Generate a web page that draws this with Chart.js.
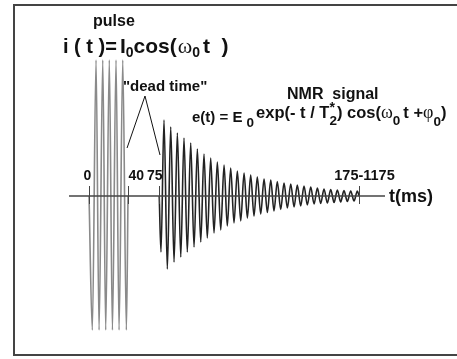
<!DOCTYPE html>
<html>
<head>
<meta charset="utf-8">
<script src="https://cdn.jsdelivr.net/npm/chart.js@4.4.0/dist/chart.umd.min.js"></script>
<style>
  body { margin: 0; background: #fff; }
  #c { display: block; }
</style>
</head>
<body>
<canvas id="c" width="457" height="359"></canvas>
<script>
// pulse i(t): extrema (time in ms, amplitude in arb. units)
const pulseTimes = [0, 3.4, 7.2, 10.3, 14.1, 17.1, 20.8, 24.0, 27.7, 30.8, 34.6, 38.3, 40];
const pulseValues = [0, -134, 136, -134, 136, -134, 136, -134, 136, -134, 136, -134, 0];

// NMR signal e(t): decaying oscillation, troughs and peaks
const signalTimes = [
	72, 73.8, 76.9, 80.3, 83.8, 87.2, 90.6, 94.1, 97.4, 100.8,
	104.3, 107.7, 111.1, 114.6, 117.9, 121.3, 124.8, 128.2, 131.6, 135.1,
	138.5, 141.8, 145.3, 148.7, 152.1, 155.6, 159.0, 162.4, 165.8, 169.2,
	172.6, 176.1, 179.5, 182.9, 186.4, 189.7, 193.1, 196.6, 200.0, 203.4,
	206.9, 210.3, 213.6, 217.1, 220.5, 223.9, 227.4, 230.8, 234.2, 237.6,
	241.0, 244.4, 247.9, 251.3, 254.7, 258.1, 261.5, 264.9, 268.4, 271.8,
	275.2, 277
];
const signalValues = [
	0, -56, 76, -73, 69, -66, 63, -61, 58, -56,
	53, -51, 47, -46, 42, -42, 38, -37, 34, -34,
	31, -30, 28, -27, 25, -25, 23, -22, 21, -20,
	19, -18, 17, -16.5, 16, -15, 14.5, -13.5, 13, -12,
	12, -11, 11, -10, 10, -9, 9, -8, 8, -7.5,
	7, -7, 6.5, -6.5, 6, -6, 5.5, -5.5, 5, -5,
	5, 0
];

// "dead time" bracket
const deadTimeX = [39.0, 57.4, 72.8];
const deadTimeY = [48, 100, 41];

// time axis
const axisRange = [-20.5, 303.6];
const tickValues = [0, 40, 72, 277];
const tickLabels = ["0", "40", "75", "175-1175"];

const toPoints = (xs, ys) => xs.map((x, i) => ({ x: x, y: ys[i] }));

const BOLD = "bold {s}px 'Liberation Sans', Arial, sans-serif";
const SERIF = "{s}px 'Liberation Serif', 'Times New Roman', serif";
const f = (tpl, s) => tpl.replace("{s}", s);

// draw a run of text pieces left to right; "over" stacks a piece on the previous one
function rich(ctx, x, y, parts) {
	ctx.textAlign = "left";
	ctx.textBaseline = "alphabetic";
	let prevX = x, prevW = 0;
	for (const p of parts) {
		ctx.font = p.font;
		const w = ctx.measureText(p.t).width;
		if (p.over) {
			ctx.fillText(p.t, prevX + (p.dx || 0), y + (p.dy || 0));
			x = prevX + Math.max(prevW, w + (p.dx || 0));
			continue;
		}
		ctx.fillText(p.t, x, y + (p.dy || 0));
		prevX = x;
		prevW = w;
		x += w + (p.gap || 0);
	}
}

const decor = {
	id: "decor",
	afterDatasetsDraw(chart) {
		const ctx = chart.ctx;
		const xs = chart.scales.x;
		const ys = chart.scales.y;
		const y0 = ys.getPixelForValue(0);
		ctx.save();

		// axis line
		ctx.strokeStyle = "#444";
		ctx.lineWidth = 1.5;
		ctx.beginPath();
		ctx.moveTo(xs.getPixelForValue(axisRange[0]), y0);
		ctx.lineTo(xs.getPixelForValue(axisRange[1]), y0);
		ctx.stroke();

		// ticks and their labels
		const labelAnchor = [["center", -2], ["left", 0], ["right", 3], ["center", 5]];
		ctx.fillStyle = "#111";
		ctx.textBaseline = "alphabetic";
		tickValues.forEach((v, i) => {
			const px = Math.round(xs.getPixelForValue(v)) + 0.5;
			ctx.lineWidth = 1;
			ctx.beginPath();
			ctx.moveTo(px, y0 - 10);
			ctx.lineTo(px, y0 + 8);
			ctx.stroke();
			ctx.textAlign = labelAnchor[i][0];
			ctx.font = f(BOLD, i === 3 ? 14.5 : 14);
			ctx.fillText(tickLabels[i], px + labelAnchor[i][1], y0 - 16);
		});

		ctx.textAlign = "left";
		ctx.font = f(BOLD, 18);
		ctx.fillText("t(ms)", 389, y0 + 6);

		// titles and formulas
		ctx.font = f(BOLD, 16);
		ctx.fillText("pulse", 93, 26);

		rich(ctx, 63, 53, [
			{ t: "i ( t )=", font: f(BOLD, 20), gap: 3 },
			{ t: "I", font: f(BOLD, 21) },
			{ t: "0", font: f(BOLD, 14), dy: 4 },
			{ t: "cos(", font: f(BOLD, 21), gap: 1 },
			{ t: "\u03c9", font: f(SERIF, 22) },
			{ t: "0", font: f(BOLD, 14), dy: 4, gap: 3 },
			{ t: "t  )", font: f(BOLD, 21) }
		]);

		ctx.font = f(BOLD, 15);
		ctx.fillText("\"dead time\"", 123, 91);

		ctx.font = f(BOLD, 16);
		ctx.fillText("NMR  signal", 287, 99);

		rich(ctx, 192, 122, [
			{ t: "e(t) = E ", font: f(BOLD, 15) },
			{ t: "0", font: f(BOLD, 13.5), dy: 5, gap: 2 },
			{ t: "exp(- t / T", font: f(BOLD, 16.5), dy: -4 },
			{ t: "2", font: f(BOLD, 13.5), dy: 3 },
			{ t: "*", font: f(BOLD, 14), dy: -10, over: true, dx: 0 },
			{ t: ") cos(", font: f(BOLD, 16.5), dy: -4 },
			{ t: "\u03c9", font: f(SERIF, 18), dy: -4 },
			{ t: "0", font: f(BOLD, 13.5), dy: 3, gap: 3 },
			{ t: "t +", font: f(BOLD, 16.5), dy: -4 },
			{ t: "\u03c6", font: f(SERIF, 18), dy: -4 },
			{ t: "0", font: f(BOLD, 13.5), dy: 4 },
			{ t: ")", font: f(BOLD, 16.5), dy: -4 }
		]);

		// frame
		ctx.strokeStyle = "#444";
		ctx.lineWidth = 2;
		ctx.strokeRect(14, 5, 470, 350);
		ctx.restore();
	}
};

const ctx = document.getElementById("c").getContext("2d");
const chart = new Chart(ctx, {
	type: "line",
	data: {
		datasets: [
			{
				data: toPoints(pulseTimes, pulseValues),
				borderColor: "#8a8a8a",
				borderWidth: 1.6,
				pointRadius: 0,
				cubicInterpolationMode: "monotone"
			},
			{
				data: toPoints(signalTimes, signalValues),
				borderColor: "#222",
				borderWidth: 1.6,
				pointRadius: 0,
				cubicInterpolationMode: "monotone"
			},
			{
				data: toPoints(deadTimeX, deadTimeY),
				borderColor: "#111",
				borderWidth: 1,
				pointRadius: 0,
				tension: 0
			}
		]
	},
	options: {
		responsive: false,
		animation: false,
		devicePixelRatio: 1,
		layout: { padding: 0 },
		plugins: {
			legend: { display: false },
			tooltip: { enabled: false }
		},
		scales: {
			x: { type: "linear", display: false, min: -91.3, max: 377.4 },
			y: { display: false, min: -163, max: 196 }
		}
	},
	plugins: [decor]
});
</script>
</body>
</html>
